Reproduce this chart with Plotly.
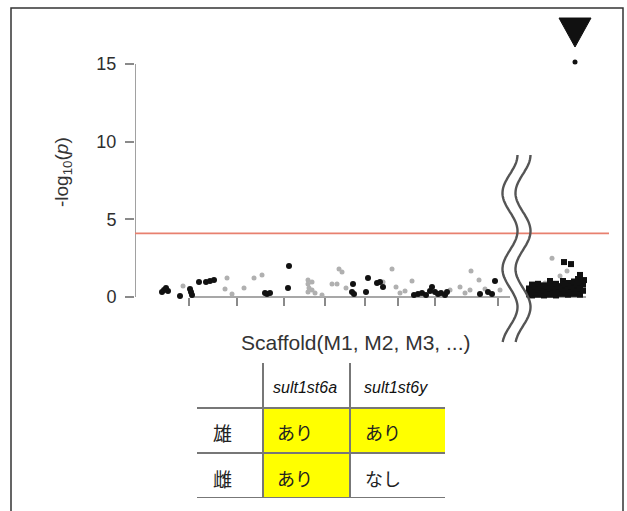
import numpy as np
import plotly.graph_objects as go

# ---------------- data ----------------
# Manhattan plot, left part (scaffolds M1, M2, ...), x in Mb (cumulative)
black_x = [5.4, 5.8, 6.2, 6.6, 9.0, 11.0, 11.2, 11.4, 12.8, 14.2, 15.0, 15.8,
           26.0, 26.4, 27.0, 30.6, 30.8, 43.4, 43.6, 43.8, 46.2, 46.6, 48.4, 49.0, 49.6,
           55.8, 56.6, 57.4, 58.2, 59.0, 59.4, 60.0, 60.6, 61.2, 62.0, 62.4,
           69.0, 70.6, 71.4, 72.0]
black_y = [0.32, 0.45, 0.58, 0.39, 0.06, 0.52, 0.32, 0.13, 0.97, 0.97, 1.03, 1.09,
           0.26, 0.19, 0.26, 0.58, 2.00, 0.32, 0.84, 0.19, 0.32, 1.22, 0.90, 0.97, 0.64,
           0.13, 0.19, 0.26, 0.13, 0.39, 0.64, 0.32, 0.19, 0.26, 0.13, 0.32,
           0.19, 0.32, 0.19, 1.03]

gray_x = [9.6, 18.0, 18.4, 19.4, 21.8, 23.8, 25.4,
          34.6, 34.6, 34.8, 34.6, 35.4, 35.4, 36.0, 37.4,
          39.4, 40.4, 40.8, 41.4, 42.2,
          49.6, 51.4, 52.2, 53.0, 54.0, 55.4,
          63.0, 65.0, 66.0, 67.0, 67.2, 68.8, 70.0, 73.0]
gray_y = [0.71, 0.52, 1.22, 0.19, 0.58, 1.22, 1.42,
          1.09, 0.84, 0.58, 0.32, 0.97, 0.45, 0.26, 0.13,
          0.84, 0.84, 1.80, 1.61, 0.58,
          0.97, 1.80, 0.64, 0.26, 0.39, 1.03,
          0.45, 0.64, 0.26, 0.45, 1.67, 1.09, 0.52, 0.45]

# right part (after the axis break)
right_black_x = [78.8, 78.8, 79.4, 79.4, 79.4, 80.0, 80.0, 80.6, 80.6, 80.6,
                 81.2, 81.2, 81.8, 81.8, 81.8, 82.4, 82.4, 83.0, 83.0, 83.0,
                 83.6, 83.6, 84.2, 84.2, 84.2, 84.8, 84.8, 85.4, 85.4, 85.6,
                 86.0, 86.0, 86.6, 86.6, 86.6, 87.2, 87.2, 87.8, 87.8, 87.8,
                 88.4, 88.4, 88.6, 89.0, 89.0, 89.0, 89.6, 89.6, 89.8, 85.8, 87.2, 89.0]
right_black_y = [0.20, 0.55, 0.10, 0.45, 0.80, 0.30, 0.65, 0.15, 0.50, 0.85,
                 0.25, 0.60, 0.10, 0.40, 0.75, 0.30, 0.70, 0.15, 0.55, 1.03,
                 0.25, 0.65, 0.10, 0.45, 0.85, 0.30, 0.70, 0.20, 0.55, 1.03,
                 0.35, 0.80, 0.15, 0.50, 0.90, 0.30, 0.70, 0.20, 0.55, 1.00,
                 0.35, 0.80, 1.16, 0.15, 0.55, 0.95, 0.40, 0.80, 1.09, 2.25, 2.12, 1.42]
right_gray_x = [82.0, 83.4, 85.0, 86.4]
right_gray_y = [0.90, 2.50, 1.35, 1.67]

top_hit_x = [88.0]
top_hit_y = [15.13]

threshold = 4.1

left_ticks = [10.8, 20.4, 29.8, 38.0, 46.0, 52.6, 60.0, 72.6]
right_ticks = [79.0, 79.6, 80.4, 81.0, 81.8, 82.4, 83.2, 83.8, 84.6, 85.2,
               86.0, 86.6, 87.4, 88.0, 88.8, 89.4, 90.0]
y_ticks = [0, 5, 10, 15]

# table
col_labels = ["sult1st6a", "sult1st6y"]
row_labels = ["雄", "雌"]
cell_text = [["あり", "あり"], ["あり", "なし"]]
cell_yellow = [[1, 1], [1, 0]]

# ---------------- layout constants ----------------
W, H = 627, 511
L, R, T, B = 135, 17, 8, 10
PW, PH = W - L - R, H - T - B


def pxx(p):
    return (p - L) / PW


def pxy(p):
    return (H - B - p) / PH


XR = [0, 95]
UNIT = 15.53                       # pixels per -log10(p) unit
YR = [(297 - 345) / UNIT, (297 - 8) / UNIT]
left_base = [11.0, 75.0]
right_base = [78.2, 90.2]
break_x = 75.0

fig = go.Figure()

# y axis line (0..15 only)
fig.add_trace(go.Scatter(x=[0, 0], y=[y_ticks[0], y_ticks[-1]], mode="lines",
                         line=dict(color="#8a8a8a", width=1.6), hoverinfo="skip",
                         showlegend=False))
# threshold line
fig.add_trace(go.Scatter(x=[XR[0], 94.8], y=[threshold, threshold], mode="lines",
                         line=dict(color="#e8806f", width=1.6), hoverinfo="skip",
                         showlegend=False))
# baselines
for seg in (left_base, right_base):
    fig.add_trace(go.Scatter(x=seg, y=[0, 0], mode="lines",
                             line=dict(color="#8a8a8a", width=1.6), hoverinfo="skip",
                             showlegend=False))

fig.add_trace(go.Scatter(x=gray_x + right_gray_x, y=gray_y + right_gray_y, mode="markers",
                         marker=dict(color="#b0b0b0", size=5), showlegend=False))
fig.add_trace(go.Scatter(x=black_x, y=black_y, mode="markers",
                         marker=dict(color="#111111", size=6), showlegend=False))
fig.add_trace(go.Scatter(x=right_black_x, y=right_black_y, mode="markers",
                         marker=dict(color="#111111", size=6, symbol="square"),
                         showlegend=False))
fig.add_trace(go.Scatter(x=top_hit_x, y=top_hit_y, mode="markers",
                         marker=dict(color="#111111", size=5), showlegend=False))

# table cell colours through a heatmap on its own axes
col_edges = [0, 66, 153, 248]
row_edges = [0, 45, 90]
z = [[0] + cell_yellow[1], [0] + cell_yellow[0]]
fig.add_trace(go.Heatmap(x=col_edges, y=row_edges, z=z, xaxis="x2", yaxis="y2",
                         colorscale=[[0, "white"], [1, "#ffff00"]], zmin=0, zmax=1,
                         showscale=False, hoverinfo="skip"))

shapes = []
# axis break (two wavy lines)
yy = np.linspace(142, -45, 120)
for off in (0, 13):
    xx = off + 7.5 * np.cos(2 * np.pi * (142 - yy) / 76)
    path = "M " + " L ".join(f"{a:.1f},{b:.1f}" for a, b in zip(xx, yy))
    shapes.append(dict(type="path", xref="x", yref="y", xsizemode="pixel", ysizemode="pixel",
                       xanchor=break_x, yanchor=0, path=path,
                       line=dict(color="#555555", width=2.4)))
# marker triangle above the top hit
shapes.append(dict(type="path", xref="x", yref="y", xsizemode="pixel", ysizemode="pixel",
                   xanchor=top_hit_x[0], yanchor=top_hit_y[0],
                   path="M -16,44 L 16,44 L 0,15 Z", fillcolor="#111111",
                   line=dict(color="#111111", width=1)))
# table grid
for yv in (90, 45, 0):
    shapes.append(dict(type="line", xref="x2", yref="y2", x0=0, x1=248, y0=yv, y1=yv,
                       line=dict(color="#777777", width=2)))
for xv in (66, 153):
    shapes.append(dict(type="line", xref="x2", yref="y2", x0=xv, x1=xv, y0=0, y1=135,
                       line=dict(color="#777777", width=2)))
# outer frame
shapes.append(dict(type="rect", xref="paper", yref="paper", x0=pxx(11), x1=pxx(623),
                   y0=pxy(520), y1=pxy(8), line=dict(color="#333333", width=1.5)))

annotations = []
annotations.append(dict(text="Scaffold(M1, M2, M3, ...)", xref="paper", yref="paper",
                        x=pxx(356), y=pxy(343), xanchor="center", yanchor="middle",
                        showarrow=False,
                        font=dict(family="Liberation Sans, Arial", size=21, color="#333333")))
annotations.append(dict(text="-log<sub>10</sub>(<i>p</i>)", xref="paper", yref="paper",
                        x=pxx(63), y=pxy(172), xanchor="center", yanchor="middle",
                        showarrow=False, textangle=-90,
                        font=dict(family="Liberation Sans, Arial", size=19, color="#333333")))
col_centers = [109.5, 200.5]
for c, lab in zip(col_centers, col_labels):
    annotations.append(dict(text=f"<i>{lab}</i>", xref="x2", yref="y2", x=c - 2, y=111,
                            showarrow=False,
                            font=dict(family="Liberation Sans Narrow, Liberation Sans", size=16,
                                      color="#111111")))
row_centers = [66, 20]
text_x = [98, 186]
for r, lab in enumerate(row_labels):
    annotations.append(dict(text=lab, xref="x2", yref="y2", x=25, y=row_centers[r],
                            showarrow=False,
                            font=dict(family="Noto Sans CJK JP", size=19, color="#222222")))
    for c in range(2):
        annotations.append(dict(text=cell_text[r][c], xref="x2", yref="y2", x=text_x[c],
                                y=row_centers[r], showarrow=False,
                                font=dict(family="Noto Sans CJK JP", size=18, color="#222222")))

fig.update_layout(
    width=W, height=H, margin=dict(l=L, r=R, t=T, b=B),
    paper_bgcolor="white", plot_bgcolor="rgba(0,0,0,0)", showlegend=False,
    xaxis=dict(range=XR, domain=[0, 1], anchor="free", position=pxy(297), showgrid=False,
               zeroline=False, showline=False, tickvals=left_ticks, ticks="outside", ticklen=8,
               tickwidth=1.6, tickcolor="#8a8a8a", showticklabels=False),
    xaxis3=dict(range=XR, overlaying="x", anchor="free", position=pxy(297), showgrid=False,
                zeroline=False, showline=False, tickvals=right_ticks, ticks="outside",
                ticklen=10, tickwidth=2, tickcolor="#111111", showticklabels=False),
    yaxis=dict(range=YR, domain=[pxy(345), 1], anchor="x", showgrid=False,
               zeroline=False, showline=False,
               tickvals=y_ticks, ticks="outside", ticklen=9, tickwidth=1.6,
               tickcolor="#8a8a8a", ticklabelstandoff=5,
               tickfont=dict(family="Liberation Sans, Arial", size=18, color="#2e2e2e")),
    xaxis2=dict(range=[0, 248], domain=[pxx(197), pxx(445)], anchor="y2", visible=False),
    yaxis2=dict(range=[0, 135], domain=[pxy(498), pxy(363)], anchor="x2", visible=False),
    shapes=shapes, annotations=annotations,
)

fig.write_html("out.html", config={"displayModeBar": False},
               post_script="document.body.style.margin='0';document.body.style.overflow='hidden';")
